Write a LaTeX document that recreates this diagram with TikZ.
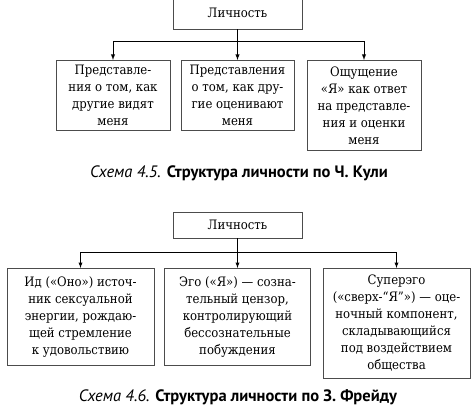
\documentclass[tikz,border=0pt]{standalone}
\usepackage{fontspec}
\setmainfont{DejaVu Serif Condensed}
\newfontfamily\capfont{PT Sans}
\usetikzlibrary{arrows,calc}

\begin{document}
\begin{tikzpicture}[x=1pt,y=-1pt,
        %Option for nice arrows%
        >=latex,%
        line width=0.9pt,%
        every node/.style={font=\fontsize{13}{17}\selectfont},%
        top box/.style={draw=black!70, minimum width=129pt,
            inner sep=2pt, text=black},%
        leaf box/.style={draw=black!70, anchor=north, align=center,
            inner sep=2pt, text=black},%
        caption/.style={font=\capfont\fontsize{16.5}{18}\selectfont}%
    ]
    \useasboundingbox (0,0) rectangle (474,417);
    %% some definitions
    \def\junA{41}   % junction line, scheme 4.5
    \def\topA{60}   % top of boxes, scheme 4.5
    \def\junB{252}  % junction line, scheme 4.6
    \def\topB{268}  % top of boxes, scheme 4.6
    %
    %% Scheme 4.5
    \node[top box, minimum height=32pt] (lichA) at (237.5,13) {Личность};
    \coordinate (jA) at (237.5,\junA);
    \node[leaf box, minimum width=114pt, minimum height=70pt] (videtA) at (113,\topA)
        {Представле-\\ния о том, как\\другие видят\\меня};
    \node[leaf box, minimum width=113pt, minimum height=70pt] (ocenA) at (237.5,\topA)
        {Представления\\о том, как дру-\\гие оценивают\\меня};
    \node[leaf box, minimum width=114pt, minimum height=90pt] (oschA) at (364,\topA)
        {Ощущение\\«Я» как ответ\\на представле-\\ния и оценки\\меня};
    \draw (lichA.south) -- (jA);
    \draw[->] (jA) -| (videtA.north);
    \draw[->] (jA) -- (ocenA.north);
    \draw[->] (jA) -| (oschA.north);
    \node[caption] (capA) at (239,173)
        {{\itshape Схема 4.5.} \textbf{Структура личности по Ч. Кули}};
    %
    %% Scheme 4.6
    \node[top box, minimum height=26pt] (lichB) at (237.5,225) {Личность};
    \coordinate (jB) at (237.5,\junB);
    \node[leaf box, minimum width=147pt, minimum height=97pt] (idB) at (80.5,\topB)
        {Ид («Оно») источ-\\ник сексуальной\\энергии, рождаю-\\щей стремление\\к удовольствию};
    \node[leaf box, minimum width=146pt, minimum height=97pt] (egoB) at (237.5,\topB)
        {Эго («Я») — созна-\\тельный цензор,\\контролирующий\\бессознательные\\побуждения};
    \node[leaf box, minimum width=147pt, minimum height=110pt] (superB) at (396.5,\topB)
        {Суперэго\\(«сверх-“Я”») — оце-\\ночный компонент,\\складывающийся\\под воздействием\\общества};
    \draw (lichB.south) -- (jB);
    \draw[->] (jB) -| (idB.north);
    \draw[->] (jB) -- (egoB.north);
    \draw[->] (jB) -| (superB.north);
    \node[caption] (capB) at (238,397)
        {{\itshape Схема 4.6.} \textbf{Структура личности по З. Фрейду}};
\end{tikzpicture}
\end{document}
